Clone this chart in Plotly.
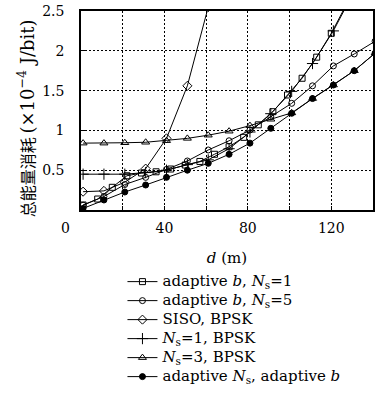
import plotly.graph_objects as go

# distances (m)
d_step10 = [1, 11, 21, 31, 41, 51, 61, 71, 81, 91, 101, 111, 121, 131, 141]
d_step7 = [1, 8, 15, 22, 29, 36, 43, 50, 57, 64, 71, 78, 85, 92, 99, 106, 113, 120, 127]
d_siso = [1, 11, 21, 31, 41, 51, 61]

# total energy consumption (x1e-4 J/bit)
adaptive_b_ns1 = [0.063, 0.138, 0.285, 0.43, 0.465, 0.48, 0.515, 0.565, 0.61, 0.70,
                  0.795, 0.913, 1.07, 1.235, 1.445, 1.655, 1.92, 2.22, 2.57]
adaptive_b_ns5 = [0.06, 0.17, 0.32, 0.41, 0.51, 0.616, 0.754, 0.87, 1.005, 1.17,
                  1.34, 1.56, 1.81, 1.96, 2.12]
siso_bpsk = [0.23, 0.24, 0.35, 0.52, 0.90, 1.56, 2.55]
ns1_bpsk = [0.45, 0.45, 0.45, 0.47, 0.50, 0.57, 0.63, 0.77, 0.98, 1.21, 1.49, 1.84,
            2.25, 2.75, 3.3]
ns3_bpsk = [0.84, 0.84, 0.845, 0.851, 0.871, 0.90, 0.94, 0.99, 1.06, 1.14, 1.22, 1.40,
            1.57, 1.75, 1.97]
adaptive_ns_b = [0.02, 0.126, 0.226, 0.314, 0.41, 0.50, 0.586, 0.70, 0.84, 1.026, 1.215,
                 1.40, 1.57, 1.75, 1.97]

series_names = [
    "adaptive <i>b</i>, <i>N</i><sub>s</sub>=1",
    "adaptive <i>b</i>, <i>N</i><sub>s</sub>=5",
    "SISO, BPSK",
    "<i>N</i><sub>s</sub>=1, BPSK",
    "<i>N</i><sub>s</sub>=3, BPSK",
    "adaptive <i>N</i><sub>s</sub>, adaptive <i>b</i>",
]

x_tickvals = [0, 20, 40, 60, 80, 100, 120, 140]
x_ticktext = ["", "", "40", "", "80", "", "120", ""]
y_tickvals = [0, 0.5, 1, 1.5, 2, 2.5]
y_ticktext = ["", "0.5", "1", "1.5", "2", "2.5"]
y_title = "总能量消耗 <span style='font-family:DejaVu Serif;font-size:18px'>(×10<sup>−4</sup> J/bit)</span>"

SERIF = '"DejaVu Serif", serif'
LEGEND_TEXT_PX = 15

fig = go.Figure()
specs = [
    (d_step7, adaptive_b_ns1, "square-open", 6),
    (d_step10, adaptive_b_ns5, "circle-open", 6),
    (d_siso, siso_bpsk, "diamond-open", 7),
    (d_step10, ns1_bpsk, "cross-thin-open", 8),
    (d_step10, ns3_bpsk, "triangle-up-open", 7),
    (d_step10, adaptive_ns_b, "circle", 6),
]
for (xs, ys, sym, sz), name in zip(specs, series_names):
    fig.add_trace(go.Scatter(
        x=xs, y=ys, mode="lines+markers",
        name=f"<span style='font-size:{LEGEND_TEXT_PX}px'>{name}</span>",
        line=dict(color="black", width=1),
        marker=dict(symbol=sym, size=sz, color="black",
                    line=dict(color="black", width=1)),
        cliponaxis=True,
    ))

axis_common = dict(
    showline=True, linecolor="black", linewidth=1.5, mirror=True,
    showgrid=True, gridcolor="black", gridwidth=1, griddash="2px,2px",
    ticks="inside", ticklen=4, tickcolor="black", tickwidth=1,
    zeroline=False, automargin=True,
    tickfont=dict(family=SERIF, size=14, color="black"),
)
fig.update_xaxes(range=[0, 140], tickmode="array", tickvals=x_tickvals,
                 ticktext=x_ticktext, ticklabelstandoff=4,
                 title=dict(text="<i>d</i> (m)", standoff=18,
                            font=dict(family=SERIF, size=15, color="black")),
                 **axis_common)
fig.update_yaxes(range=[0, 2.5], tickmode="array", tickvals=y_tickvals,
                 ticktext=y_ticktext, ticklabelstandoff=12,
                 **axis_common)

fig.add_annotation(text=y_title, xref="paper", yref="paper", x=-0.188, y=0.462,
                   xanchor="center", yanchor="middle", textangle=-90,
                   showarrow=False,
                   font=dict(family="Noto Sans CJK SC", size=16, color="black"))
fig.add_annotation(text="0", xref="paper", yref="paper", x=-0.052, y=-0.09,
                   xanchor="center", yanchor="middle",
                   showarrow=False, font=dict(family=SERIF, size=14, color="black"))

fig.update_layout(
    width=375, height=401,
    margin=dict(l=81, r=2, t=11, b=191, autoexpand=False),
    paper_bgcolor="white", plot_bgcolor="white",
    showlegend=True, hovermode=False,
    legend=dict(x=0.142, xanchor="left", y=-0.287, yanchor="top",
                font=dict(family=SERIF, size=11, color="black"),
                bgcolor="rgba(0,0,0,0)", tracegroupgap=0),
)

fig.write_html("out.html", config={"displayModeBar": False},
               post_script="document.body.style.margin='0';")
